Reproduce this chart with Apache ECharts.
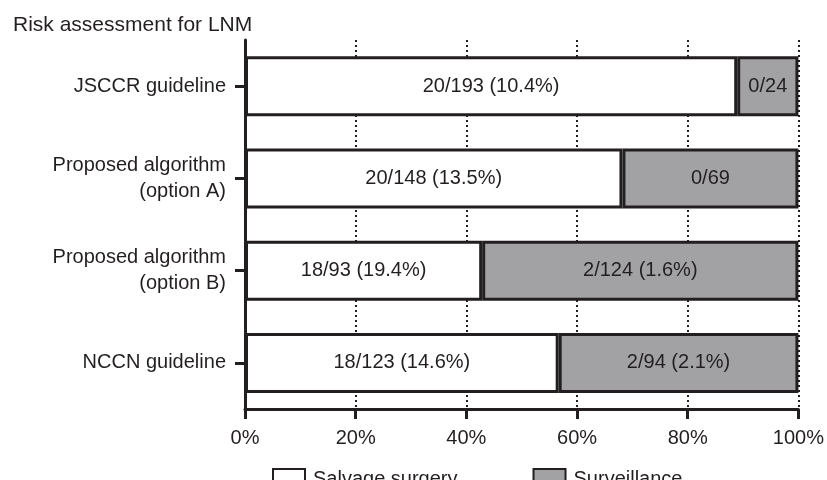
<!DOCTYPE html>
<html>
<head>
<meta charset="utf-8">
<title>Risk assessment for LNM</title>
<script src="https://cdn.jsdelivr.net/npm/echarts@6/dist/echarts.min.js"></script>
<style>
  html, body {
    margin: 0;
    padding: 0;
    background: #fff;
  }
  #myChart {
    width: 827px;
    height: 480px;
  }
</style>
</head>
<body>
<div id="myChart"></div>
<script>
var categories = [
  "JSCCR guideline",
  "Proposed algorithm\n(option A)",
  "Proposed algorithm\n(option B)",
  "NCCN guideline"
];
// LNM events / patients in each group
var salvageEvents = [20, 20, 18, 18];
var salvageTotal = [193, 148, 93, 123];
var surveillanceEvents = [0, 0, 2, 2];
var surveillanceTotal = [24, 69, 124, 94];
var xTicks = [0, 20, 40, 60, 80, 100];

var ink = "#231f20";
var fontName = "Liberation Sans, Arial, sans-serif";

function share(n, i) {
  return (n / (salvageTotal[i] + surveillanceTotal[i])) * 100;
}

function labelText(events, total) {
  if (events == 0) {
    return events + "/" + total;
  }
  return events + "/" + total + " (" + ((events / total) * 100).toFixed(1) + "%)";
}

let myChart = echarts.init(document.getElementById("myChart"));

var option = {
  animation: false,
  textStyle: {
    fontFamily: fontName,
    color: ink
  },
  title: {
    text: "Risk assessment for LNM",
    left: 8,
    top: 10,
    textStyle: {
      fontFamily: fontName,
      fontSize: 21,
      fontWeight: "normal",
      color: ink
    }
  },
  grid: {
    left: 245,
    right: 28,
    top: 40,
    bottom: 71
  },
  legend: {
    data: ["Salvage surgery", "Surveillance"],
    icon: "rect",
    left: 267,
    top: 463,
    itemWidth: 32,
    itemHeight: 20,
    itemGap: 75,
    textStyle: {
      fontFamily: fontName,
      fontSize: 20,
      color: ink,
      padding: [0, 0, 0, 3]
    }
  },
  xAxis: {
    type: "value",
    min: xTicks[0],
    max: xTicks[xTicks.length - 1],
    interval: 20,
    axisLine: {
      show: true,
      lineStyle: {
        color: ink,
        width: 3
      }
    },
    axisTick: {
      show: true,
      length: 10,
      lineStyle: {
        color: ink,
        width: 3
      }
    },
    axisLabel: {
      formatter: "{value}%",
      margin: 19,
      fontSize: 20,
      color: ink,
      fontFamily: fontName
    },
    splitLine: {
      show: true,
      lineStyle: {
        color: ink,
        width: 2,
        type: [2, 3]
      }
    }
  },
  yAxis: {
    type: "category",
    inverse: true,
    data: categories,
    axisLine: {
      show: true,
      lineStyle: {
        color: ink,
        width: 3
      }
    },
    axisTick: {
      show: true,
      alignWithLabel: true,
      length: 10,
      lineStyle: {
        color: ink,
        width: 3
      }
    },
    axisLabel: {
      margin: 19,
      fontSize: 20,
      lineHeight: 26,
      color: ink,
      fontFamily: fontName
    }
  },
  series: [
    {
      name: "Salvage surgery",
      type: "bar",
      stack: "all",
      barWidth: 60,
      itemStyle: {
        color: "#ffffff",
        borderColor: ink,
        borderWidth: 3
      },
      label: {
        show: true,
        position: "inside",
        fontSize: 20,
        color: ink,
        fontFamily: fontName,
        formatter: function (p) {
          return labelText(salvageEvents[p.dataIndex], salvageTotal[p.dataIndex]);
        }
      },
      data: salvageTotal.map(function (n, i) {
        return share(n, i);
      })
    },
    {
      name: "Surveillance",
      type: "bar",
      stack: "all",
      barWidth: 60,
      itemStyle: {
        color: "#a2a2a5",
        borderColor: ink,
        borderWidth: 3
      },
      label: {
        show: true,
        position: "inside",
        fontSize: 20,
        color: ink,
        fontFamily: fontName,
        formatter: function (p) {
          return labelText(surveillanceEvents[p.dataIndex], surveillanceTotal[p.dataIndex]);
        }
      },
      data: surveillanceTotal.map(function (n, i) {
        return share(n, i);
      })
    }
  ]
};

myChart.setOption(option);
</script>
</body>
</html>
